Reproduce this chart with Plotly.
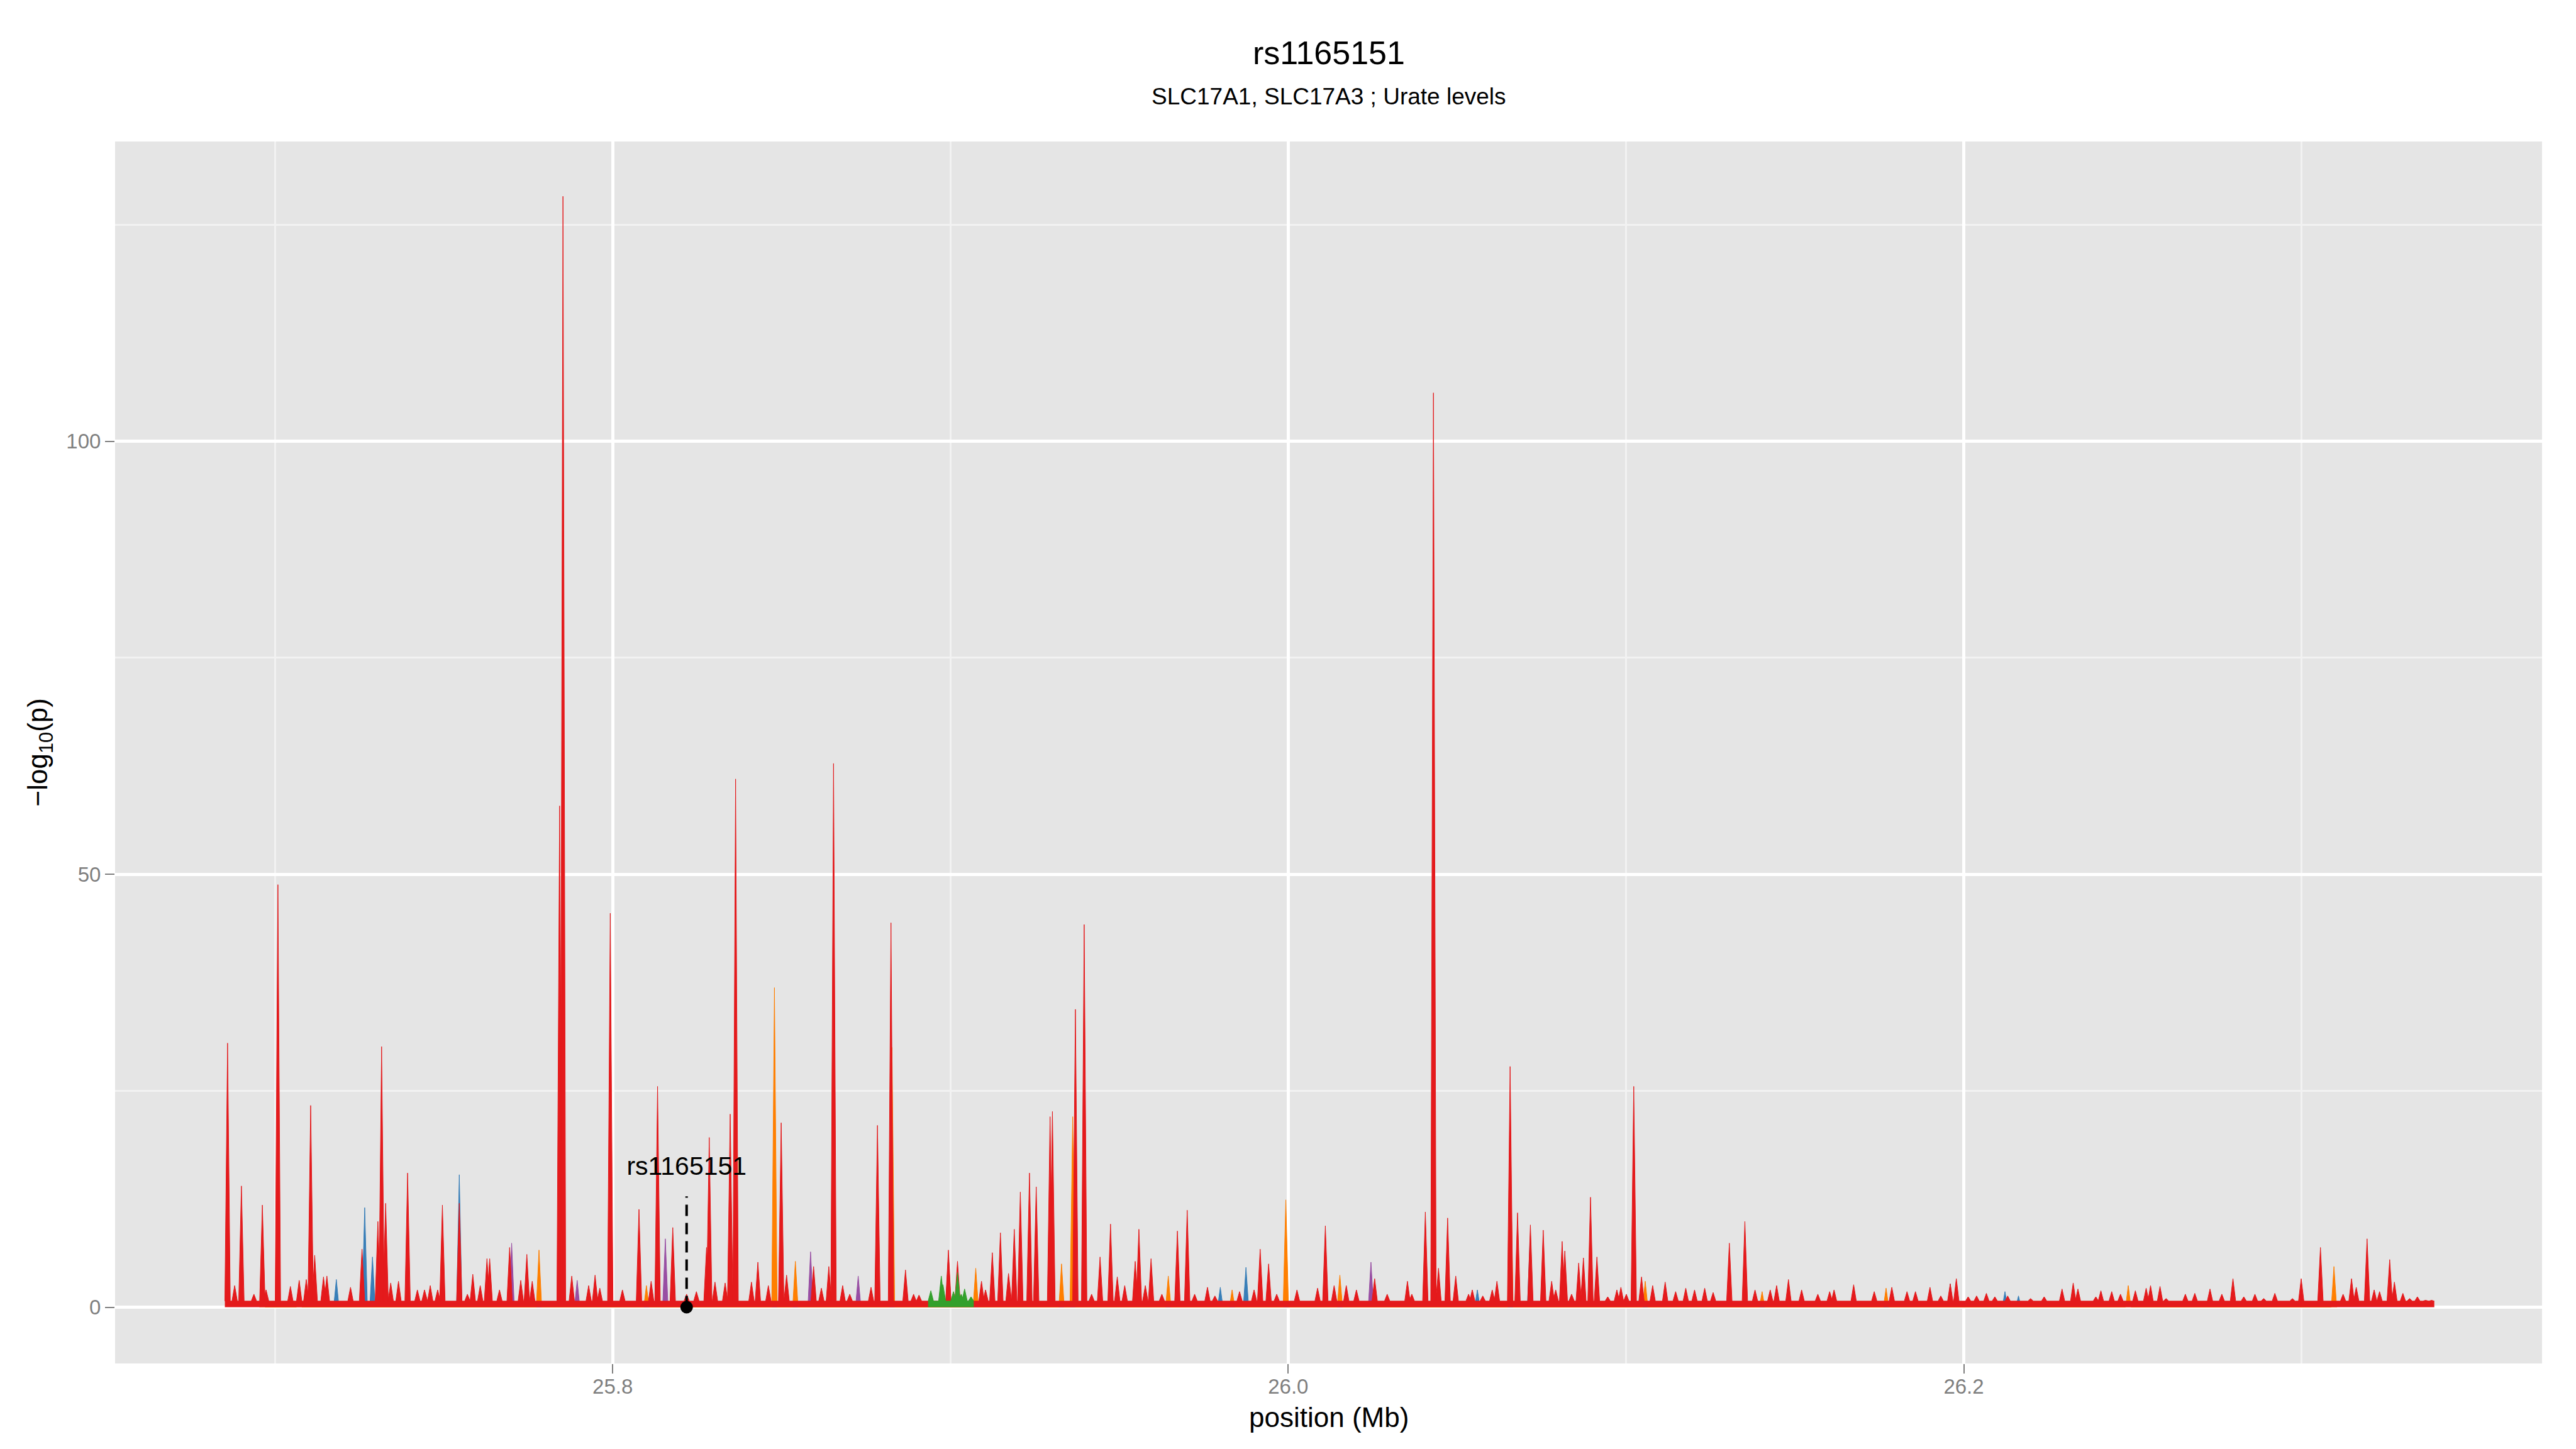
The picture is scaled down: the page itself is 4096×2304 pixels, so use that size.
import plotly.graph_objects as go

# ---------------- data (positions in Mb, values = -log10(p)) ----------------
red_pos = [
    25.6860, 25.6881, 25.6901, 25.6938, 25.6963, 25.6974, 25.7009, 25.7046, 25.7072, 25.7093,
    25.7106, 25.7118, 25.7144, 25.7154, 25.7224, 25.7258, 25.7305, 25.7316, 25.7328, 25.7343,
    25.7366, 25.7393, 25.7422, 25.7443, 25.7460, 25.7482, 25.7496, 25.7546, 25.7570, 25.7586,
    25.7608, 25.7628, 25.7636, 25.7665, 25.7695, 25.7728, 25.7746, 25.7762, 25.7843, 25.7853,
    25.7879, 25.7929, 25.7948, 25.7962, 25.7993, 25.8029, 25.8078, 25.8114, 25.8133, 25.8178,
    25.8219, 25.8248, 25.8278, 25.8286, 25.8303, 25.8333, 25.8348, 25.8364, 25.8411, 25.8430,
    25.8461, 25.8499, 25.8515, 25.8595, 25.8618, 25.8640, 25.8654, 25.8681, 25.8702, 25.8765,
    25.8784, 25.8824, 25.8867, 25.8891, 25.8907, 25.8994, 25.9021, 25.9092, 25.9104, 25.9124,
    25.9148, 25.9172, 25.9189, 25.9207, 25.9234, 25.9254, 25.9295, 25.9302, 25.9370, 25.9396,
    25.9418, 25.9443, 25.9474, 25.9494, 25.9516, 25.9547, 25.9558, 25.9577, 25.9594, 25.9626,
    25.9672, 25.9701, 25.9723, 25.9761, 25.9783, 25.9856, 25.9899, 25.9917, 25.9942, 25.9966,
    26.0026, 26.0087, 26.0110, 26.0136, 26.0172, 26.0202, 26.0256, 26.0293, 26.0353, 26.0366,
    26.0406, 26.0430, 26.0445, 26.0472, 26.0496, 26.0534, 26.0545, 26.0576, 26.0604, 26.0618,
    26.0657, 26.0679, 26.0717, 26.0755, 26.0780, 26.0792, 26.0811, 26.0819, 26.0839, 26.0860,
    26.0874, 26.0895, 26.0914, 26.0946, 26.0973, 26.0985, 26.1001, 26.1023, 26.1046, 26.1079,
    26.1116, 26.1147, 26.1177, 26.1203, 26.1233, 26.1258, 26.1306, 26.1352, 26.1382, 26.1427,
    26.1446, 26.1481, 26.1520, 26.1568, 26.1603, 26.1616, 26.1674, 26.1735, 26.1787, 26.1832,
    26.1857, 26.1900, 26.1932, 26.1960, 26.1978, 26.2013, 26.2038, 26.2067, 26.2092, 26.2130,
    26.2198, 26.2238, 26.2291, 26.2324, 26.2338, 26.2391, 26.2406, 26.2438, 26.2464, 26.2508,
    26.2540, 26.2553, 26.2581, 26.2599, 26.2656, 26.2684, 26.2729, 26.2764, 26.2797, 26.2829,
    26.2862, 26.2888, 26.2921, 26.2973, 26.2999, 26.3056, 26.3123, 26.3148, 26.3162, 26.3194,
    26.3215, 26.3231, 26.3261, 26.3275, 26.3300, 26.3320, 26.3343, 26.3367, 26.3385,
]
red_val = [
    30.5, 2.5, 14.0, 1.5, 11.8, 2.0, 48.8, 2.4, 3.1, 3.2,
    23.3, 6.0, 3.5, 3.6, 2.3, 6.7, 9.9, 30.1, 12.0, 2.8,
    3.0, 15.5, 2.0, 2.0, 2.5, 2.0, 11.8, 12.0, 1.5, 3.8,
    2.5, 5.6, 5.6, 2.0, 6.9, 3.1, 6.1, 3.0, 57.9, 128.3,
    3.6, 2.5, 3.7, 2.2, 45.5, 2.0, 11.3, 3.0, 25.5, 9.2,
    1.5, 1.8, 6.9, 19.6, 2.9, 2.8, 22.3, 61.0, 2.9, 5.2,
    2.5, 21.3, 3.7, 4.7, 2.2, 4.7, 62.8, 2.5, 1.5, 2.3,
    21.0, 44.4, 4.3, 1.5, 1.4, 6.6, 5.3, 3.0, 2.0, 6.3,
    8.6, 3.9, 9.0, 13.3, 15.5, 13.9, 22.0, 22.6, 34.4, 44.2,
    1.5, 5.8, 9.6, 3.5, 2.5, 5.3, 9.0, 2.5, 5.6, 1.5,
    8.8, 11.2, 1.5, 2.3, 1.3, 1.8, 2.0, 6.7, 5.0, 1.5,
    2.0, 2.2, 9.4, 2.5, 2.5, 2.0, 3.3, 1.5, 3.0, 1.5,
    11.0, 105.6, 4.5, 10.3, 3.6, 1.5, 2.0, 1.3, 2.0, 3.0,
    27.8, 10.9, 9.5, 8.9, 3.0, 2.0, 7.6, 6.5, 1.5, 5.1,
    5.7, 12.7, 5.8, 1.2, 2.0, 2.3, 1.5, 25.5, 3.5, 2.5,
    2.9, 1.8, 2.2, 2.0, 2.2, 1.7, 7.4, 9.9, 2.0, 2.0,
    2.5, 3.2, 2.0, 1.5, 1.8, 2.0, 2.6, 1.8, 2.3, 1.8,
    1.8, 2.3, 1.3, 2.7, 3.3, 1.2, 1.3, 1.6, 1.2, 1.3,
    1.0, 1.2, 2.1, 2.8, 2.1, 1.2, 1.9, 1.8, 1.5, 1.9,
    2.2, 2.5, 2.4, 1.0, 1.5, 1.6, 2.1, 1.5, 3.3, 1.2,
    1.5, 1.0, 1.6, 1.0, 3.3, 6.9, 1.5, 3.3, 2.3, 7.9,
    2.0, 1.8, 5.5, 2.9, 1.6, 1.0, 1.2, 0.8, 0.8,
]

orange_pos = [25.6963, 25.7072, 25.7782, 25.8100, 25.8479, 25.8541, 25.8827, 25.9075, 25.9329, 25.9362,
              25.9645, 25.9834, 25.9993, 26.0153, 26.0658, 26.1057, 26.1403, 26.1770, 26.2487, 26.3096]
orange_val = [10.0, 3.0, 6.6, 2.5, 36.9, 5.3, 30.0, 4.5, 5.0, 22.0,
              3.6, 2.0, 12.4, 3.7, 17.0, 3.0, 1.8, 2.2, 2.5, 4.7]

blue_pos = [25.7182, 25.7266, 25.7289, 25.7546, 25.9799, 25.9875, 26.0560, 26.0716, 26.1960, 26.2122, 26.2162]
blue_val = [3.2, 11.5, 5.8, 15.3, 2.3, 4.6, 2.0, 7.8, 2.7, 1.8, 1.3]

purple_pos = [25.7701, 25.7895, 25.8156, 25.8586, 25.8727, 25.8994, 26.0245]
purple_val = [7.4, 3.1, 7.9, 6.4, 3.6, 6.0, 5.2]

green_pos = [25.8942, 25.8973, 25.8978, 25.9009, 25.9021, 25.9032, 25.9042, 25.9061]
green_val = [1.9, 3.6, 2.6, 1.8, 4.0, 1.5, 2.1, 1.2]

trough_red = 0.7      # typical -log10(p) between peaks (red carpet)
trough_green = 0.7

snp_pos = 25.8219
snp_label = "rs1165151"
snp_line_top = 12.8
snp_label_y = 16.0

title_text = "rs1165151"
subtitle_text = "SLC17A1, SLC17A3 ; Urate levels"
x_title = "position (Mb)"
y_title = "\u2212log<sub>10</sub>(p)"

assert len(red_pos) == len(red_val)
assert len(orange_pos) == len(orange_val)
assert len(blue_pos) == len(blue_val)
assert len(purple_pos) == len(purple_val)
assert len(green_pos) == len(green_val)

# ---------------- styling ----------------
HALF_W = 0.0008  # spike half-width at base (Mb)
FONT = "Liberation Sans, Arial, Helvetica, sans-serif"
COL = {"red": "#E41A1C", "orange": "#FF7F00", "blue": "#377EB8",
       "purple": "#984EA3", "green": "#33A02C"}


def spike_path(pos, val, floor):
    xs, ys = [], []
    for p, v in sorted(zip(pos, val)):
        xs += [p - HALF_W, p, p + HALF_W]
        ys += [floor, v, floor]
    return xs, ys


fig = go.Figure()
for name, pos, val, floor in [
    ("blue", blue_pos, blue_val, 0.0),
    ("purple", purple_pos, purple_val, 0.0),
    ("orange", orange_pos, orange_val, 0.0),
    ("red", red_pos, red_val, trough_red),
    ("green", green_pos, green_val, trough_green),
]:
    xs, ys = spike_path(pos, val, floor)
    fig.add_trace(go.Scatter(
        x=xs, y=ys, mode="lines", fill="tozeroy",
        line=dict(color=COL[name], width=1.0),
        fillcolor=COL[name], hoverinfo="skip", showlegend=False))

# highlighted SNP: dashed segment + point + label
fig.add_trace(go.Scatter(
    x=[snp_pos, snp_pos], y=[0, snp_line_top], mode="lines",
    line=dict(color="black", width=4, dash="18px,11px"),
    hoverinfo="skip", showlegend=False))
fig.add_trace(go.Scatter(
    x=[snp_pos], y=[0], mode="markers",
    marker=dict(color="black", size=20),
    hoverinfo="skip", showlegend=False, cliponaxis=False))
fig.add_trace(go.Scatter(
    x=[snp_pos], y=[snp_label_y], mode="text", text=[snp_label],
    textposition="middle center",
    textfont=dict(family=FONT, size=41, color="black"),
    hoverinfo="skip", showlegend=False))

W, H = 4096, 2304
ML, MR, MT, MB = 183, 54, 225, 136
PH = H - MT - MB
PW = W - ML - MR

fig.update_layout(
    width=W, height=H,
    margin=dict(l=ML, r=MR, t=MT, b=MB),
    paper_bgcolor="white", plot_bgcolor="#E5E5E5",
    font=dict(family=FONT, color="black"),
    showlegend=False,
    xaxis=dict(
        range=[25.6527, 26.3712], tick0=25.8, dtick=0.2, tickformat=".1f",
        ticks="outside", ticklen=15, tickwidth=2, tickcolor="#7F7F7F",
        ticklabelstandoff=-8,
        tickfont=dict(size=33, color="#7F7F7F", family=FONT),
        showgrid=True, gridcolor="white", gridwidth=5,
        minor=dict(tick0=25.8, dtick=0.1, showgrid=True, gridcolor="#F2F2F2",
                   gridwidth=2.5, ticks=""),
        zeroline=False, showline=False),
    yaxis=dict(
        range=[-6.5, 134.63], tick0=0, dtick=50,
        ticks="outside", ticklen=15, tickwidth=2, tickcolor="#7F7F7F",
        tickfont=dict(size=33, color="#7F7F7F", family=FONT),
        showgrid=True, gridcolor="white", gridwidth=5,
        minor=dict(tick0=0, dtick=25, showgrid=True, gridcolor="#F2F2F2",
                   gridwidth=2.5, ticks=""),
        zeroline=False, showline=False),
    annotations=[
        dict(text=title_text, xref="paper", yref="paper", x=0.5,
             y=1 + (MT - 83.6) / PH, xanchor="center", yanchor="middle",
             showarrow=False, font=dict(size=52, family=FONT, color="black")),
        dict(text=subtitle_text, xref="paper", yref="paper", x=0.5,
             y=1 + (MT - 154) / PH, xanchor="center", yanchor="middle",
             showarrow=False, font=dict(size=37, family=FONT, color="black")),
        dict(text=x_title, xref="paper", yref="paper", x=0.5,
             y=-(2253.6 - (H - MB)) / PH, xanchor="center", yanchor="middle",
             showarrow=False, font=dict(size=44, family=FONT, color="black")),
        dict(text=y_title, xref="paper", yref="paper",
             x=(62 - ML) / PW, y=0.5, xanchor="center", yanchor="middle",
             textangle=-90, showarrow=False,
             font=dict(size=44, family=FONT, color="black")),
    ],
)

fig.write_html("out.html", config={"displayModeBar": False},
               post_script="document.body.style.margin='0px';")
